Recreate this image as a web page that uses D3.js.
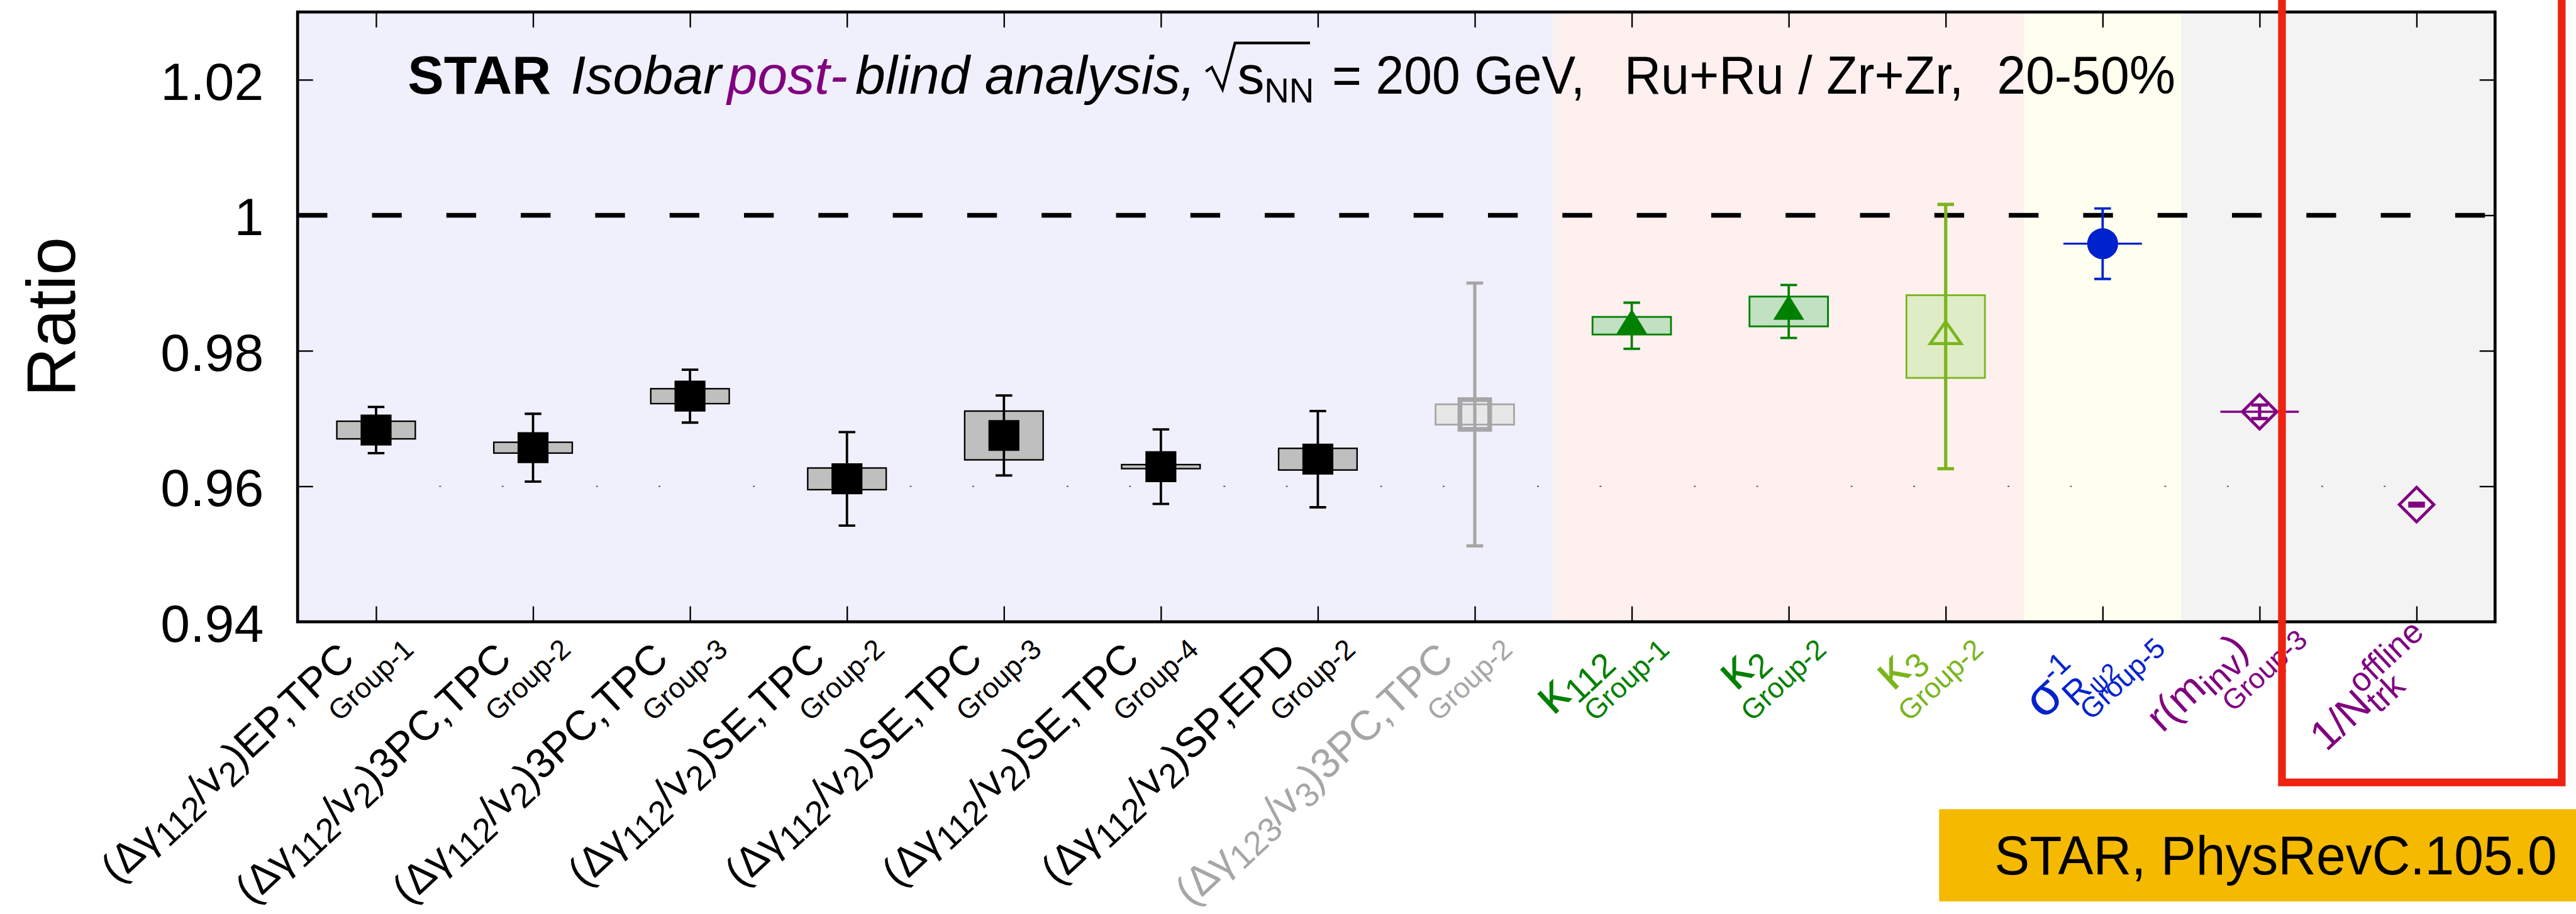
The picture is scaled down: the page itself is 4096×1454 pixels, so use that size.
<!DOCTYPE html>
<html>
<head>
<meta charset="utf-8">
<script src="https://cdn.jsdelivr.net/npm/d3@7"></script>
<style>
  body { margin: 0; background: #fff; }
  svg { display: block; }
  text { font-family: "Liberation Sans", Arial, Helvetica, sans-serif; }
</style>
</head>
<body>
<svg id="chart"></svg>
<script>
// ---- data ----
const categories = d3.range(14);
const values  = [0.9683, 0.9657, 0.9733, 0.9611, 0.9675, 0.9629, 0.9640, 0.9706, 0.9837, 0.9858, 0.9821, 0.9958, 0.9710, 0.9573];
const statErr = [0.0034, 0.0050, 0.0039, 0.0069, 0.0059, 0.0055, 0.0071, 0.0194, 0.0034, 0.0039, 0.0195, 0.0052, 0.0010, 0.0002];
const sysErr  = [0.0013, 0.0008, 0.0011, 0.0016, 0.0036, 0.0003, 0.0016, 0.0015, 0.0013, 0.0022, 0.0061, null, null, null];
const xErrBar = [false, false, false, false, false, false, false, false, false, false, false, true, true, false];
const markers = ['square', 'square', 'square', 'square', 'square', 'square', 'square', 'openSquare',
                 'triangle', 'triangle', 'openTriangle', 'circle', 'diamond', 'diamond'];
const colors  = ['#000', '#000', '#000', '#000', '#000', '#000', '#000', '#a6a6a6',
                 '#008000', '#008000', '#7ab51d', '#0022cc', '#800080', '#800080'];
const sysFill = ['#bfbfbf', '#bfbfbf', '#bfbfbf', '#bfbfbf', '#bfbfbf', '#bfbfbf', '#bfbfbf', '#e7e7e7',
                 '#c2e0c2', '#c2e0c2', '#dfedc6', null, null, null];

const bandEdges  = [-0.5, 7.5, 10.5, 11.5, 13.5];
const bandColors = ['#f0f0fc', '#fff0f0', '#fffff0', '#f3f3f3'];

const yTicks = [0.94, 0.96, 0.98, 1.0, 1.02];
const yTickLabels = ['0.94', '0.96', '0.98', '1', '1.02'];

const tickLabels = [
    [['(Δγ'], ['112', 'sub'], ['/v'], ['2', 'sub'], [')EP,TPC'], ['Group-1', 'grp']],
    [['(Δγ'], ['112', 'sub'], ['/v'], ['2', 'sub'], [')3PC,TPC'], ['Group-2', 'grp']],
    [['(Δγ'], ['112', 'sub'], ['/v'], ['2', 'sub'], [')3PC,TPC'], ['Group-3', 'grp']],
    [['(Δγ'], ['112', 'sub'], ['/v'], ['2', 'sub'], [')SE,TPC'], ['Group-2', 'grp']],
    [['(Δγ'], ['112', 'sub'], ['/v'], ['2', 'sub'], [')SE,TPC'], ['Group-3', 'grp']],
    [['(Δγ'], ['112', 'sub'], ['/v'], ['2', 'sub'], [')SE,TPC'], ['Group-4', 'grp']],
    [['(Δγ'], ['112', 'sub'], ['/v'], ['2', 'sub'], [')SP,EPD'], ['Group-2', 'grp']],
    [['(Δγ'], ['123', 'sub'], ['/v'], ['3', 'sub'], [')3PC,TPC'], ['Group-2', 'grp']],
    [['κ', 'big'], ['112', 'sub'], ['Group-1', 'grp']],
    [['κ', 'big'], ['2', 'sub'], ['Group-2', 'grp']],
    [['κ', 'big'], ['3', 'sub'], ['Group-2', 'grp']],
    [['σ', 'big'], ['-1', 'sup'], ['R', 'stackSub'], ['ψ2', 'subsub'], ['Group-5', 'grp']],
    [['r(m'], ['inv', 'sub'], [')'], ['Group-3', 'grp']],
    [['1/N'], ['trk', 'sub'], ['offline', 'stackSup']]
];

// ---- layout (reference pixels, scaled by the viewBox) ----
const W = 4328, H = 1536;
const plot = { left: 500, right: 4192, top: 20, bottom: 1045 };

const svg = d3.select('#chart')
    .attr('width', 4096)
    .attr('height', 1454)
    .attr('viewBox', `0 0 ${W} ${H}`);

const x = d3.scaleLinear().domain([-0.5, 13.5]).range([plot.left, plot.right]);
const y = d3.scaleLinear().domain([0.94, 1.03]).range([plot.bottom, plot.top]);

// background bands
svg.append('g')
    .selectAll('rect')
    .data(bandColors)
    .enter()
    .append('rect')
    .attr('x', (d, i) => x(bandEdges[i]))
    .attr('width', (d, i) => x(bandEdges[i + 1]) - x(bandEdges[i]))
    .attr('y', plot.top)
    .attr('height', plot.bottom - plot.top)
    .attr('fill', d => d);

// dashed reference line at 1 and the faint dotted one at 0.96
svg.append('line')
    .attr('x1', plot.left).attr('x2', plot.right - 10)
    .attr('y1', y(1)).attr('y2', y(1))
    .attr('stroke', '#000').attr('stroke-width', 8)
    .attr('stroke-dasharray', '50 75');

svg.append('line')
    .attr('x1', 738).attr('x2', 4010)
    .attr('y1', y(0.96)).attr('y2', y(0.96))
    .attr('stroke', '#444').attr('stroke-width', 2)
    .attr('stroke-dasharray', '3 102 3 155.5');

// axes (ticks point inward)
const axisStyle = g => {
    g.select('.domain').remove();
    g.selectAll('.tick line').attr('stroke', '#000').attr('stroke-width', 2.5);
};

svg.append('g')
    .attr('transform', `translate(${plot.left},0)`)
    .call(d3.axisLeft(y).tickValues(yTicks).tickSize(-26).tickPadding(57)
        .tickFormat((d, i) => yTickLabels[i]))
    .call(axisStyle)
    .call(g => g.selectAll('.tick text')
        .attr('font-size', 89)
        .attr('font-family', '"Liberation Sans", Arial, sans-serif')
        .attr('fill', '#000')
        .attr('dy', '0.37em'));

svg.append('g')
    .attr('transform', `translate(${plot.right},0)`)
    .call(d3.axisRight(y).tickValues(yTicks).tickSize(-26).tickFormat(''))
    .call(axisStyle);

svg.append('g')
    .attr('transform', `translate(0,${plot.bottom})`)
    .call(d3.axisBottom(x).tickValues(categories).tickSize(-26).tickFormat(''))
    .call(axisStyle);

svg.append('g')
    .attr('transform', `translate(0,${plot.top})`)
    .call(d3.axisTop(x).tickValues(categories).tickSize(-26).tickFormat(''))
    .call(axisStyle);

// frame
svg.append('rect')
    .attr('x', plot.left).attr('y', plot.top)
    .attr('width', plot.right - plot.left).attr('height', plot.bottom - plot.top)
    .attr('fill', 'none').attr('stroke', '#000').attr('stroke-width', 5);

// ---- data points ----
const pts = svg.append('g')
    .selectAll('g')
    .data(categories)
    .enter()
    .append('g')
    .attr('class', 'pt');

// systematic boxes
pts.filter(i => sysErr[i] !== null)
    .append('rect')
    .attr('x', i => x(i - 0.25))
    .attr('width', i => x(i + 0.25) - x(i - 0.25))
    .attr('y', i => y(values[i] + sysErr[i]))
    .attr('height', i => y(values[i] - sysErr[i]) - y(values[i] + sysErr[i]))
    .attr('fill', i => sysFill[i])
    .attr('stroke', i => i < 7 ? '#000' : colors[i])
    .attr('stroke-width', i => i < 7 ? 2.5 : 3);

// horizontal bars
pts.filter(i => xErrBar[i])
    .append('line')
    .attr('x1', i => x(i - 0.25)).attr('x2', i => x(i + 0.25))
    .attr('y1', i => y(values[i])).attr('y2', i => y(values[i]))
    .attr('stroke', i => colors[i]).attr('stroke-width', 3.5);

// statistical error bars with caps
const barWidth = i => (i === 7 || i === 10 || i >= 12) ? 5.5 : 4;
const capHalf = 14;
pts.append('path')
    .attr('d', i => {
        const cx = x(i), t = y(values[i] + statErr[i]), b = y(values[i] - statErr[i]);
        return `M${cx},${t}V${b}M${cx - capHalf},${t}H${cx + capHalf}M${cx - capHalf},${b}H${cx + capHalf}`;
    })
    .attr('fill', 'none')
    .attr('stroke', i => colors[i])
    .attr('stroke-width', barWidth);

// markers
const markerPath = (type, cx, cy) => {
    switch (type) {
        case 'square':
            return `M${cx - 26},${cy - 26}h52v52h-52Z`;
        case 'openSquare':
            return `M${cx - 25},${cy - 25}h50v50h-50Z`;
        case 'triangle':
            return `M${cx},${cy - 28}L${cx + 26},${cy + 14}L${cx - 26},${cy + 14}Z`;
        case 'openTriangle':
            return `M${cx},${cy - 25}L${cx + 26},${cy + 12}L${cx - 26},${cy + 12}Z`;
        case 'diamond':
            return `M${cx},${cy - 29}L${cx + 29},${cy}L${cx},${cy + 29}L${cx - 29},${cy}Z`;
        default:
            return '';
    }
};

pts.filter(i => markers[i] === 'circle')
    .append('circle')
    .attr('cx', i => x(i)).attr('cy', i => y(values[i]))
    .attr('r', 26)
    .attr('fill', i => colors[i]);

pts.filter(i => markers[i] !== 'circle')
    .append('path')
    .attr('d', i => markerPath(markers[i], x(i), y(values[i])))
    .attr('fill', i => ['square', 'triangle'].includes(markers[i]) ? colors[i] : 'none')
    .attr('stroke', i => ['square', 'triangle'].includes(markers[i]) ? 'none' : colors[i])
    .attr('stroke-width', i => markers[i] === 'openSquare' ? 8 : 5);

// ---- x tick labels (rotated rich text) ----
const mainSize = 70;

// lays the runs out along a baseline, returns the end point of the last run
function richText(g, runs, base, color) {
    let cursor = 0, stackStart = 0, mainEnd = 0, end = [0, 0];
    runs.forEach(([t, kind]) => {
        let size = base, dy = 0, start = cursor;
        if (kind === 'big') { size = base * 1.25; }
        if (kind === 'sub') { size = base * 0.82; dy = base * 0.2; stackStart = start; }
        if (kind === 'sup') { size = base * 0.72; dy = -base * 0.5; stackStart = start; }
        if (kind === 'stackSub') { size = base * 0.82; dy = base * 0.3; start = stackStart; }
        if (kind === 'stackSup') { size = base * 0.8; dy = -base * 0.45; start = stackStart; }
        if (kind === 'subsub') { size = base * 0.6; dy = base * 0.45; }
        if (kind === 'grp') { size = base * 0.68; dy = base * 0.79; start = mainEnd - base * 1.3; }
        const el = g.append('text')
            .attr('x', start)
            .attr('y', dy)
            .attr('font-size', size)
            .attr('fill', color)
            .text(t);
        const w = el.node().getComputedTextLength();
        cursor = start + w;
        if (kind !== 'grp') mainEnd = Math.max(mainEnd, cursor);
        end = [cursor, dy];
    });
    return end;
}

// where the end of each label sits, relative to its tick
const labelEnd = { 11: [108, 48], 12: [83, 34], 13: [15, 21] };
const labelAngle = -43;

const xLabels = svg.append('g').attr('class', 'x-labels');
tickLabels.forEach((runs, i) => {
    const g = xLabels.append('g');
    const inner = g.append('g');
    const [ex, ey] = richText(inner, runs, mainSize, colors[i]);
    const [ox, oy] = labelEnd[i] || [66, 50];
    inner.attr('transform', `translate(${-ex},${-ey})`);
    g.attr('transform', `translate(${x(i) + ox},${plot.bottom + oy}) rotate(${labelAngle})`);
});

// ---- y axis title ----
svg.append('text')
    .attr('transform', `translate(126,${(plot.top + plot.bottom) / 2}) rotate(-90)`)
    .attr('text-anchor', 'middle')
    .attr('font-size', 115)
    .text('Ratio');

// ---- header ----
const title = svg.append('text')
    .attr('y', 157)
    .attr('font-size', 91)
    .attr('fill', '#000');
title.append('tspan').attr('x', 685).attr('font-weight', 'bold').text('STAR');
title.append('tspan').attr('x', 959).attr('font-style', 'italic').text('Isobar');
title.append('tspan').attr('x', 1222).attr('font-style', 'italic').attr('fill', '#800080').text('post-');
title.append('tspan').attr('x', 1437).attr('font-style', 'italic').text('blind analysis,');
title.append('tspan').attr('x', 2079).text('s');
title.append('tspan').attr('x', 2124).attr('y', 172).attr('font-size', 58).text('NN');

const plainPart = (txt, x0, len) => svg.append('text')
    .attr('x', x0).attr('y', 157)
    .attr('font-size', 91)
    .attr('textLength', len)
    .attr('lengthAdjust', 'spacingAndGlyphs')
    .text(txt);
plainPart('= 200 GeV,', 2238, 425);
plainPart('Ru+Ru / Zr+Zr,', 2729, 570);
plainPart('20-50%', 3355, 300);

svg.append('path')
    .attr('d', 'M2026,120L2036,113L2054,150L2075,72H2201')
    .attr('fill', 'none')
    .attr('stroke', '#000')
    .attr('stroke-width', 4.5);

// ---- overlays ----
svg.append('rect')
    .attr('x', 3834).attr('y', -30)
    .attr('width', 4304 - 3834).attr('height', 1315 + 30)
    .attr('fill', 'none')
    .attr('stroke', '#ee2211')
    .attr('stroke-width', 13);

svg.append('rect')
    .attr('x', 3258).attr('y', 1360)
    .attr('width', W - 3258 + 10).attr('height', 155)
    .attr('fill', '#f5b900');

svg.append('text')
    .attr('x', 3351).attr('y', 1470)
    .attr('font-size', 93)
    .attr('textLength', 945)
    .attr('lengthAdjust', 'spacingAndGlyphs')
    .attr('fill', '#000')
    .text('STAR, PhysRevC.105.0');
</script>
</body>
</html>
